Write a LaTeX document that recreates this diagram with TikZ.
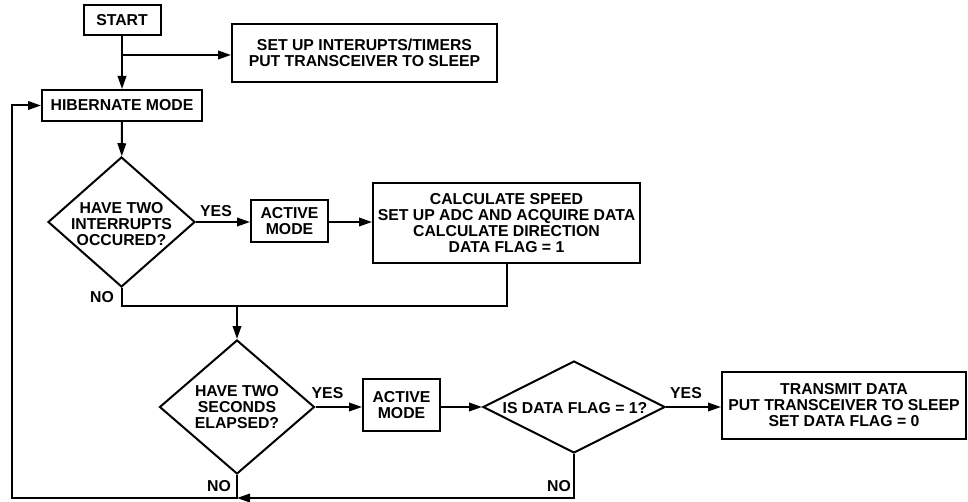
\documentclass[tikz,border=0pt]{standalone}
\usepackage{fontspec}
\setmainfont{Liberation Sans}
\usetikzlibrary{arrows.meta,shapes.geometric}
\tikzset{
  every node/.style={font=\fontsize{15.8}{16}\selectfont\bfseries},
  box/.style={draw, line width=2pt, inner sep=0pt, align=center},
  dia/.style={draw, diamond, line width=2pt, inner sep=0pt},
  txt/.style={inner sep=0pt, align=center},
  line/.style={line width=2pt},
  arr/.style={line width=2pt, -{Triangle[length=13pt,width=8.5pt]}},
}
\begin{document}
\begin{tikzpicture}[x=1pt,y=-1pt]
\useasboundingbox (0,0) rectangle (968,502);
\fill[white] (0,0) rectangle (968,502);
% nodes
\node[box, minimum width=77pt, minimum height=30pt] (start) at (122,20) {START};
\node[box, minimum width=265pt, minimum height=58pt] (setup) at (364.5,53) {SET UP INTERUPTS/TIMERS\\PUT TRANSCEIVER TO SLEEP};
\node[box, minimum width=160pt, minimum height=31pt] (hib) at (122,105.5) {HIBERNATE MODE};
\node[dia, minimum width=147pt, minimum height=130pt] (d1) at (121.5,222) {};
\node[txt] (d1t) at (121.5,224) {HAVE TWO\\INTERRUPTS\\OCCURED?};
\node[box, minimum width=77pt, minimum height=42pt] (a1) at (289.5,221.5) {ACTIVE\\MODE};
\node[box, minimum width=267pt, minimum height=80pt] (calc) at (506.5,223) {CALCULATE SPEED\\SET UP ADC AND ACQUIRE DATA\\CALCULATE DIRECTION\\DATA FLAG = 1};
\node[dia, minimum width=155pt, minimum height=134pt] (d2) at (237,407) {};
\node[txt] (d2t) at (237,407) {HAVE TWO\\SECONDS\\ELAPSED?};
\node[box, minimum width=77pt, minimum height=52pt] (a2) at (401.5,405) {ACTIVE\\MODE};
\node[dia, minimum width=182pt, minimum height=92pt] (d3) at (574,407) {};
\node[txt] (d3t) at (575,408) {IS DATA FLAG = 1?};
\node[box, minimum width=244pt, minimum height=67pt] (tx) at (844,405.5) {TRANSMIT DATA\\PUT TRANSCEIVER TO SLEEP\\SET DATA FLAG = 0};
% labels
\node[txt] (y1) at (216,211.5) {YES};
\node[txt] (y2) at (327.5,393.5) {YES};
\node[txt] (y3) at (686,393) {YES};
\node[txt, anchor=east] (n1) at (114,297) {NO};
\node[txt, anchor=east] (n2) at (231,486.5) {NO};
\node[txt, anchor=east] (n3) at (571,486.5) {NO};
% coordinates
\coordinate (br) at (122,55);
\coordinate (j1) at (237,306);
\coordinate (j2) at (237,498);
\coordinate (c1) at (12,498);
\coordinate (c2) at (12,105.5);
% connectors
\draw[arr] (start) -- (hib);
\draw[arr] (br) -- (br -| setup.west);
\draw[arr] (hib) -- (d1);
\draw[arr] (d1.east) -- (d1.east -| a1.west);
\draw[arr] (a1.east |- d1.east) -- (d1.east -| calc.west);
\draw[line] (d1.south) |- (j1) -| (calc.south);
\draw[arr] (j1) -- (d2.north);
\draw[arr] (d2.east) -- (d2.east -| a2.west);
\draw[arr] (a2.east |- d2.east) -- (d3.west);
\draw[arr] (d3.east) -- (d3.east -| tx.west);
\draw[arr] (d3.south) |- (j2);
\draw[arr] (d2.south) -- (j2) -- (c1) -- (c2) -- (hib.west);
\end{tikzpicture}
\end{document}
